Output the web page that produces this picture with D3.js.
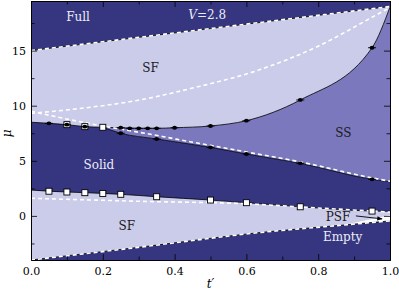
<!DOCTYPE html>
<html>
<head>
<meta charset="utf-8">
<script src="https://cdn.jsdelivr.net/npm/d3@7"></script>
<style>
  body { margin: 0; background: #fff; }
  text { font-family: "DejaVu Serif", serif; }
</style>
</head>
<body>
<svg id="canvas" width="399" height="290"></svg>
<script>
// phase boundaries, pairs of [t', mu]
let fullEdge = [[0, 15.0], [0.25, 16.0], [0.5, 17.0], [0.75, 18.0], [1, 19.0]];
let emptyEdge = [[0, -4.0], [0.3, -2.85], [0.64, -1.5], [0.87, -0.83], [1, -0.45]];
let upperEdge = [[0, 8.5], [0.05, 8.4], [0.1, 8.28], [0.15, 8.1], [0.2, 8.04], [0.25, 8.0], [0.3, 7.95],
	[0.35, 7.95], [0.4, 8.0], [0.5, 8.16], [0.6, 8.64], [0.75, 10.52], [0.95, 15.26], [1, 18.96]];
let ssLowerEdge = [[0.2, 8.04], [0.25, 7.5], [0.35, 6.98], [0.5, 6.22], [0.6, 5.62], [0.75, 4.77], [0.95, 3.32], [1, 3.1]];
let solidLowerEdge = [[0, 2.35], [0.05, 2.24], [0.1, 2.17], [0.15, 2.11], [0.2, 2.04], [0.25, 1.96], [0.35, 1.74],
	[0.5, 1.44], [0.6, 1.2], [0.75, 0.83], [0.95, 0.44], [1, 0.42]];
let psfEdge = [[0.87, -0.83], [1, 0.05], [1, -0.45]];

// white dashed curves
let dashSF = [[0, 9.3], [0.15, 9.8], [0.3, 10.5], [0.45, 11.6], [0.64, 13.3], [0.8, 15.4], [0.96, 18.2], [1, 18.9]];
let dashDiag = [[0, 9.5], [0.09, 8.86], [0.183, 8.25], [0.276, 7.73], [0.369, 7.19], [0.443, 6.73], [0.5, 6.4],
	[0.6, 5.8], [0.75, 4.9], [0.95, 3.45], [1, 3.15]];
let dashLow = [[0, 1.6], [0.3, 1.33], [0.6, 1.1], [0.8, 0.72], [1, 0.35]];

// QMC points
let dotT = [0.05, 0.1, 0.15, 0.25, 0.275, 0.3, 0.325, 0.35, 0.4, 0.5, 0.6, 0.75, 0.95];
let dotMu = [8.4, 8.28, 8.1, 8.0, 7.95, 7.95, 7.95, 7.95, 8.0, 8.16, 8.64, 10.52, 15.26];
let dotLowT = [0.25, 0.35, 0.5, 0.6, 0.75, 0.95];
let dotLowMu = [7.5, 6.98, 6.22, 5.62, 4.77, 3.32];
let squareT = [0.1, 0.15, 0.2, 0.05, 0.1, 0.15, 0.2, 0.25, 0.35, 0.5, 0.6, 0.75, 0.95];
let squareMu = [8.28, 8.1, 8.04, 2.24, 2.17, 2.11, 2.04, 1.96, 1.74, 1.44, 1.2, 0.83, 0.44];

let xMajor = [0, 0.2, 0.4, 0.6, 0.8, 1.0];
let xMinor = [0.1, 0.3, 0.5, 0.7, 0.9];
let yMajor = [0, 5, 10, 15];
let yMinor = [-2.5, 2.5, 7.5, 12.5, 17.5];

let labels = [
	{ text: 'Full', t: 0.131, mu: 17.7, color: '#ececf6' },
	{ text: 'SF', t: 0.333, mu: 13.1, color: '#1a1a1a' },
	{ text: 'Solid', t: 0.189, mu: 4.26, color: '#ececf6' },
	{ text: 'SF', t: 0.267, mu: -1.27, color: '#1a1a1a' },
	{ text: 'SS', t: 0.87, mu: 7.16, color: '#1a1a1a' },
	{ text: 'PSF', t: 0.855, mu: -0.45, color: '#1a1a1a' },
	{ text: 'Empty', t: 0.868, mu: -2.3, color: '#ececf6' }
];

let dark = '#35367f';
let light = '#cbcbea';
let mid = '#7b78bd';

let canvas = d3.select('#canvas');
let x = d3.scaleLinear().domain([0, 1]).range([31, 390]);
let y = d3.scaleLinear().domain([-4, 19.5]).range([260, 1]);

let curve = d3.line().x((d) => x(d[0])).y((d) => y(d[1])).curve(d3.curveMonotoneX);
let straight = d3.line().x((d) => x(d[0])).y((d) => y(d[1]));

// closed shape: top edge left->right, bottom edge right->left
let region = (top, bottom) => {
	let back = bottom.slice().reverse();
	return curve(top) + 'L' + curve(back).slice(1) + 'Z';
};

canvas.append('clipPath').attr('id', 'clip')
	.append('rect')
	.attr('x', x(0)).attr('y', y(19.5))
	.attr('width', x(1) - x(0)).attr('height', y(-4) - y(19.5));

let plot = canvas.append('g').attr('clip-path', 'url(#clip)');

plot.append('rect')
	.attr('x', x(0)).attr('y', y(19.5))
	.attr('width', x(1) - x(0)).attr('height', y(-4) - y(19.5))
	.attr('fill', dark);

plot.append('path').attr('d', region(fullEdge, emptyEdge)).attr('fill', light);

let solidTop = upperEdge.filter((p) => p[0] < 0.2).concat(ssLowerEdge);
plot.append('path').attr('d', region(solidTop, solidLowerEdge)).attr('fill', dark);

let ssTop = upperEdge.filter((p) => p[0] >= 0.2);
plot.append('path').attr('d', region(ssTop, ssLowerEdge)).attr('fill', mid);

plot.append('path').attr('d', straight(psfEdge) + 'Z').attr('fill', '#ffffff');

// black boundaries
[fullEdge, emptyEdge, upperEdge, ssLowerEdge, solidLowerEdge].forEach((edge) => {
	plot.append('path').attr('d', curve(edge))
		.attr('fill', 'none').attr('stroke', '#000').attr('stroke-width', 0.8);
});

// white dashed curves
[fullEdge, emptyEdge, dashSF, dashDiag, dashLow].forEach((edge) => {
	plot.append('path').attr('d', curve(edge))
		.attr('fill', 'none').attr('stroke', '#fff').attr('stroke-width', 1.6)
		.attr('stroke-dasharray', '4,3');
});

// markers
let dots = dotT.map((t, i) => [t, dotMu[i]]).concat(dotLowT.map((t, i) => [t, dotLowMu[i]]));
let squares = squareT.map((t, i) => [t, squareMu[i]]);

plot.selectAll('rect.sq').data(squares).enter().append('rect')
	.attr('class', 'sq')
	.attr('x', (d) => x(d[0]) - 3).attr('y', (d) => y(d[1]) - 3)
	.attr('width', 6).attr('height', 6)
	.attr('fill', '#fff').attr('stroke', '#000').attr('stroke-width', 0.9);

plot.selectAll('line.err').data(dots).enter().append('line')
	.attr('class', 'err')
	.attr('x1', (d) => x(d[0]) - 4).attr('x2', (d) => x(d[0]) + 4)
	.attr('y1', (d) => y(d[1])).attr('y2', (d) => y(d[1]))
	.attr('stroke', '#000').attr('stroke-width', 0.9);

plot.selectAll('ellipse').data(dots).enter().append('ellipse')
	.attr('cx', (d) => x(d[0])).attr('cy', (d) => y(d[1]))
	.attr('rx', 2.4).attr('ry', 1.9).attr('fill', '#000');

// PSF arrow
canvas.append('defs').append('marker')
	.attr('id', 'arrow').attr('viewBox', '0 0 10 10')
	.attr('refX', 9).attr('refY', 5)
	.attr('markerWidth', 6).attr('markerHeight', 6)
	.attr('orient', 'auto')
	.append('path').attr('d', 'M0,1L10,5L0,9Z').attr('fill', '#000');

canvas.append('line')
	.attr('x1', x(0.905)).attr('y1', y(0.0))
	.attr('x2', x(0.978)).attr('y2', y(-0.27))
	.attr('stroke', '#000').attr('stroke-width', 0.9)
	.attr('marker-end', 'url(#arrow)');

// region labels
canvas.selectAll('text.region').data(labels).enter().append('text')
	.attr('class', 'region')
	.attr('x', (d) => x(d.t)).attr('y', (d) => y(d.mu))
	.attr('text-anchor', 'middle')
	.attr('font-size', '12px')
	.attr('fill', (d) => d.color)
	.text((d) => d.text);

let vLabel = canvas.append('text')
	.attr('x', x(0.491)).attr('y', y(17.9))
	.attr('text-anchor', 'middle')
	.attr('font-size', '12px')
	.attr('fill', '#ececf6');
vLabel.append('tspan').attr('font-style', 'italic').text('V');
vLabel.append('tspan').text('=2.8');

// axes with inward ticks on all four sides
let styleAxis = (g) => {
	g.selectAll('path.domain').attr('stroke', '#000').attr('stroke-width', 0.9);
	g.selectAll('.tick line').attr('stroke', '#000').attr('stroke-width', 0.8);
	g.selectAll('text').attr('font-family', 'DejaVu Serif').attr('font-size', '11px').attr('fill', '#000');
};

canvas.append('g').attr('transform', 'translate(0,' + y(-4) + ')')
	.call(d3.axisBottom(x).tickValues(xMajor).tickFormat(d3.format('.1f')).tickSize(-6).tickSizeOuter(0).tickPadding(7))
	.call(styleAxis);
canvas.append('g').attr('transform', 'translate(0,' + y(-4) + ')')
	.call(d3.axisBottom(x).tickValues(xMinor).tickFormat('').tickSize(-3.5).tickSizeOuter(0))
	.call(styleAxis);
canvas.append('g').attr('transform', 'translate(0,' + y(19.5) + ')')
	.call(d3.axisTop(x).tickValues(xMajor).tickFormat('').tickSize(-6).tickSizeOuter(0))
	.call(styleAxis);
canvas.append('g').attr('transform', 'translate(0,' + y(19.5) + ')')
	.call(d3.axisTop(x).tickValues(xMinor).tickFormat('').tickSize(-3.5).tickSizeOuter(0))
	.call(styleAxis);
canvas.append('g').attr('transform', 'translate(' + x(0) + ',0)')
	.call(d3.axisLeft(y).tickValues(yMajor).tickSize(-6).tickSizeOuter(0).tickPadding(5))
	.call(styleAxis);
canvas.append('g').attr('transform', 'translate(' + x(0) + ',0)')
	.call(d3.axisLeft(y).tickValues(yMinor).tickFormat('').tickSize(-3.5).tickSizeOuter(0))
	.call(styleAxis);
canvas.append('g').attr('transform', 'translate(' + x(1) + ',0)')
	.call(d3.axisRight(y).tickValues(yMajor).tickFormat('').tickSize(-6).tickSizeOuter(0))
	.call(styleAxis);
canvas.append('g').attr('transform', 'translate(' + x(1) + ',0)')
	.call(d3.axisRight(y).tickValues(yMinor).tickFormat('').tickSize(-3.5).tickSizeOuter(0))
	.call(styleAxis);

// axis titles
canvas.append('text')
	.attr('x', x(0.5)).attr('y', 288)
	.attr('text-anchor', 'middle')
	.attr('font-size', '12px').attr('font-style', 'italic')
	.text('t\u2032');

canvas.append('text')
	.attr('transform', 'translate(11,' + y(7.5) + ') rotate(-90)')
	.attr('text-anchor', 'middle')
	.attr('font-size', '12px').attr('font-style', 'italic')
	.text('\u03bc');
</script>
</body>
</html>
